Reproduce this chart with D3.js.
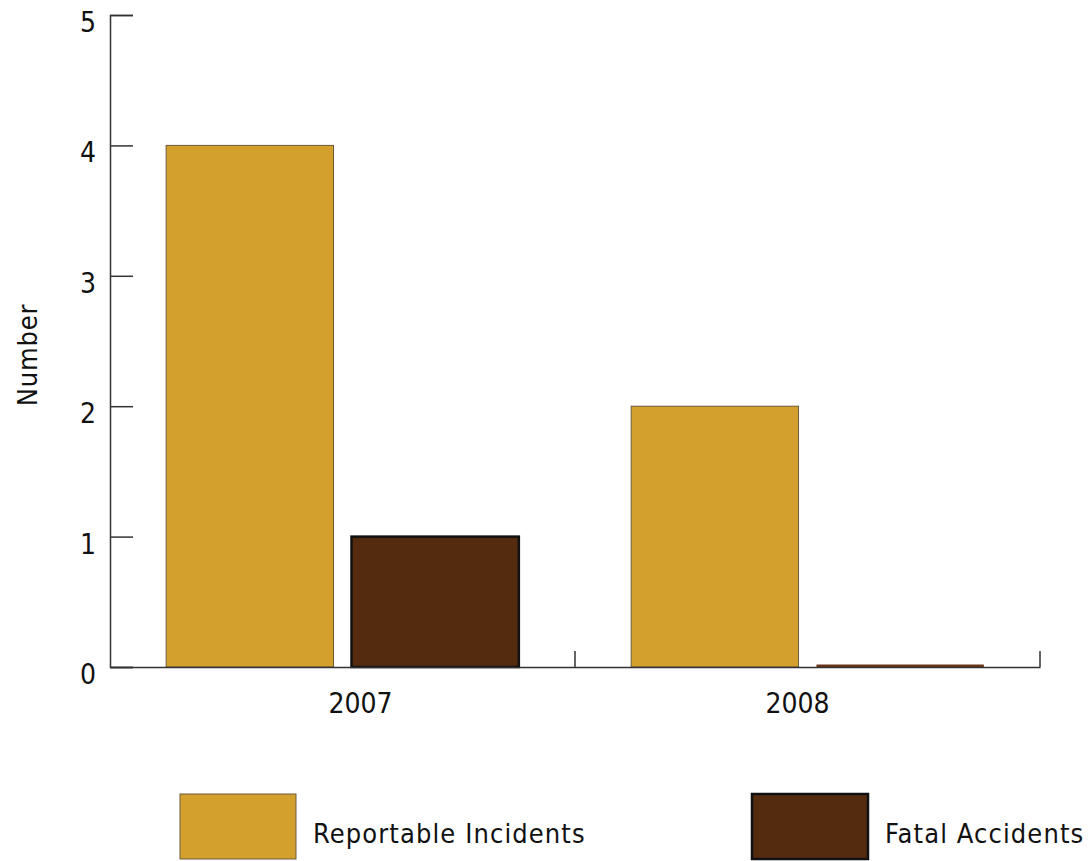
<!DOCTYPE html>
<html><head><meta charset="utf-8">
<script src="https://cdn.jsdelivr.net/npm/d3@7"></script>
<style>body{margin:0;background:#fff}svg{display:block}text{font-family:"DejaVu Sans Condensed","DejaVu Sans",sans-serif;fill:#111}</style>
</head><body><svg id="c" width="1092" height="861"></svg>
<script>
const years = ["2007", "2008"];
const seriesNames = ["Reportable Incidents", "Fatal Accidents"];
const reportable = [4, 2];
const fatal = [1, 0];
const yTicks = [0, 1, 2, 3, 4, 5];
const colors = ["#D4A02D", "#552B10"];
const strokes = ["#6b5a3a", "#111"];

const svg = d3.select("#c");
const x0 = d3.scaleBand().domain(years).range([110, 1040]).padding(0);
const x1 = d3.scaleBand().domain(seriesNames).range([0, x0.bandwidth()]).paddingInner(0.097).paddingOuter(0.303);
const xLabel = d3.scaleBand().domain(years).range([142, 1016]).padding(0);
const y = d3.scaleLinear().domain([0, 5]).range([667, 15]);
const values = [reportable, fatal];

// bars
years.forEach((yr, i) => {
  seriesNames.forEach((s, j) => {
    const v = values[j][i];
    const xb = x0(yr) + x1(s);
    if (v === 0) {
      svg.append("line").attr("x1", xb).attr("x2", xb + x1.bandwidth())
        .attr("y1", y(0) - 1).attr("y2", y(0) - 1)
        .attr("stroke", "#6a3418").attr("stroke-width", 3);
    } else {
      svg.append("rect").attr("x", xb).attr("y", y(v))
        .attr("width", x1.bandwidth()).attr("height", y(0) - y(v))
        .attr("fill", colors[j]).attr("stroke", strokes[j])
        .attr("stroke-width", j === 0 ? 1 : 2.5);
    }
  });
});

// y axis
const yAxis = svg.append("g").attr("transform", "translate(110,0)")
  .call(d3.axisRight(y).tickValues(yTicks).tickSize(23).tickFormat(""));
yAxis.select(".domain").attr("stroke", "#333").attr("stroke-width", 1.5);
yAxis.selectAll(".tick line").attr("stroke", "#333").attr("stroke-width", 1.5);
svg.selectAll(".ylab").data(yTicks).join("text")
  .attr("x", 96).attr("y", d => y(d) + 17).attr("text-anchor", "end")
  .attr("font-size", 28).text(d => d);

// x axis
const xAxis = svg.append("g").attr("transform", "translate(0,667)")
  .call(d3.axisTop(x0).tickSize(0).tickFormat(""));
xAxis.select(".domain").attr("stroke", "#333").attr("stroke-width", 1.5);
xAxis.selectAll(".tick").remove();
[x0("2008"), x0.range()[1]].forEach(xv => {
  svg.append("line").attr("x1", xv).attr("x2", xv).attr("y1", 651).attr("y2", 667)
    .attr("stroke", "#333").attr("stroke-width", 1.5);
});
svg.selectAll(".xlab").data(years).join("text")
  .attr("x", d => xLabel(d) + xLabel.bandwidth() / 2).attr("y", 713)
  .attr("text-anchor", "middle").attr("font-size", 28).text(d => d);

// y label
svg.append("text").attr("transform", "translate(37,355) rotate(-90)")
  .attr("text-anchor", "middle").attr("font-size", 27).attr("letter-spacing", 0.8).text("Number");

// legend
const legX = [180, 752];
seriesNames.forEach((s, j) => {
  svg.append("rect").attr("x", legX[j]).attr("y", 794).attr("width", 116).attr("height", 65)
    .attr("fill", colors[j]).attr("stroke", strokes[j]).attr("stroke-width", j === 0 ? 1 : 2.5);
  svg.append("text").attr("x", legX[j] + 133).attr("y", 843).attr("font-size", 27)
    .attr("letter-spacing", 1.1).text(s);
});
</script></body></html>
